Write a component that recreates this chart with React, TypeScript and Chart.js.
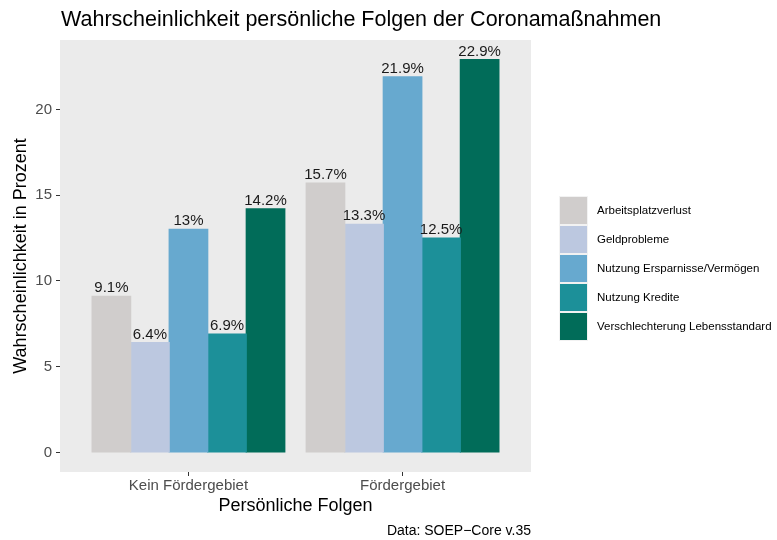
import React, { useEffect, useRef } from 'react';
import { Chart, registerables } from 'chart.js';

Chart.register(...registerables);

const FONT = '"Liberation Sans", Arial, Helvetica, sans-serif';

const titleText = 'Wahrscheinlichkeit persönliche Folgen der Coronamaßnahmen';
const captionText = 'Data: SOEP\u2212Core v.35';
const xTitle = 'Persönliche Folgen';
const yTitle = 'Wahrscheinlichkeit in Prozent';

const categories = ['Kein Fördergebiet', 'Fördergebiet'];
const seriesNames = [
  'Arbeitsplatzverlust',
  'Geldprobleme',
  'Nutzung Ersparnisse/Vermögen',
  'Nutzung Kredite',
  'Verschlechterung Lebensstandard',
];
const arbeitsplatzverlust = [9.1, 15.7];
const geldprobleme = [6.4, 13.3];
const ersparnisse = [13, 21.9];
const kredite = [6.9, 12.5];
const lebensstandard = [14.2, 22.9];
const seriesValues = [arbeitsplatzverlust, geldprobleme, ersparnisse, kredite, lebensstandard];
const seriesColors = ['#D0CDCC', '#BCC8E0', '#67A9CF', '#1C9099', '#016C59'];
const yTicks = [0, 5, 10, 15, 20];

const W = 777;
const H = 540;

export default function App() {
  const ref = useRef<HTMLCanvasElement | null>(null);

  useEffect(() => {
    const canvas = ref.current;
    if (!canvas) return;

    const bgPlugin = {
      id: 'panelBg',
      beforeDraw(chart: any) {
        const { ctx, chartArea } = chart;
        ctx.save();
        ctx.fillStyle = '#FFFFFF';
        ctx.fillRect(0, 0, chart.width, chart.height);
        ctx.fillStyle = '#EBEBEB';
        ctx.fillRect(chartArea.left, chartArea.top, chartArea.right - chartArea.left, chartArea.bottom - chartArea.top);
        ctx.restore();
      },
    };

    const labelPlugin = {
      id: 'barLabels',
      afterDatasetsDraw(chart: any) {
        const { ctx } = chart;
        ctx.save();
        ctx.font = `15px ${FONT}`;
        ctx.fillStyle = '#1A1A1A';
        ctx.textAlign = 'center';
        ctx.textBaseline = 'alphabetic';
        chart.data.datasets.forEach((ds: any, i: number) => {
          const meta = chart.getDatasetMeta(i);
          meta.data.forEach((el: any, j: number) => {
            const v = ds.data[j].y;
            ctx.fillText(`${v}%`, el.x, el.y - 4);
          });
        });
        ctx.restore();
      },
    };

    const decorPlugin = {
      id: 'decor',
      afterDraw(chart: any) {
        const { ctx, chartArea } = chart;
        ctx.save();
        // title
        ctx.fillStyle = '#000000';
        ctx.font = `21.5px ${FONT}`;
        ctx.textAlign = 'left';
        ctx.textBaseline = 'alphabetic';
        ctx.fillText(titleText, chartArea.left + 1, 26);
        // caption
        ctx.font = `14px ${FONT}`;
        ctx.textAlign = 'right';
        ctx.fillText(captionText, chartArea.right, 535);
        // legend
        const keyX = 560;
        const keyY = 197;
        const pitch = 29;
        const size = 27;
        ctx.font = `11.5px ${FONT}`;
        ctx.textAlign = 'left';
        ctx.textBaseline = 'middle';
        chart.data.datasets.forEach((ds: any, i: number) => {
          const y = keyY + i * pitch;
          ctx.fillStyle = '#F2F2F2';
          ctx.fillRect(keyX - 1, y - 1, size + 2, size + 2);
          ctx.fillStyle = ds.backgroundColor;
          ctx.fillRect(keyX, y, size, size);
          ctx.fillStyle = '#000000';
          ctx.fillText(ds.label, keyX + 37, y + size / 2 + 0.5);
        });
        ctx.restore();
      },
    };

    const chart = new Chart(canvas, {
      type: 'bar',
      data: {
        datasets: seriesValues.map((vals, i) => ({
          label: seriesNames[i],
          data: vals.map((v, j) => ({ x: j + 1, y: v })),
          backgroundColor: seriesColors[i],
          borderWidth: 0,
          inflateAmount: 0.6,
          categoryPercentage: 0.9,
          barPercentage: 1,
        })),
      },
      options: {
        animation: false,
        responsive: false,
        maintainAspectRatio: false,
        devicePixelRatio: 1,
        layout: { padding: { left: 0, top: 40, right: W - 531, bottom: 0 } },
        plugins: {
          legend: { display: false },
          title: { display: false },
          tooltip: { enabled: false },
        },
        scales: {
          x: {
            type: 'linear',
            min: 0.4,
            max: 2.6,
            offset: false,
            border: { display: false },
            grid: {
              display: true,
              drawOnChartArea: false,
              drawTicks: true,
              tickLength: 4,
              tickColor: '#333333',
              tickWidth: 1,
              offset: false,
            },
            ticks: {
              autoSkip: false,
              maxRotation: 0,
              padding: 1,
              color: '#4D4D4D',
              font: { family: FONT, size: 15 },
              callback: (v: any) => {
                const idx = Math.round(Number(v)) - 1;
                return categories[idx] ?? '';
              },
            },
            afterBuildTicks: (s: any) => {
              s.ticks = categories.map((_, i) => ({ value: i + 1 }));
            },
            afterFit: (s: any) => {
              s.height = H - 472;
            },
            title: {
              display: true,
              text: xTitle,
              color: '#000000',
              font: { family: FONT, size: 18 },
              padding: { top: 0, bottom: 23 },
            },
          },
          y: {
            type: 'linear',
            min: -1.145,
            max: 24.045,
            border: { display: false },
            grid: {
              display: true,
              drawOnChartArea: false,
              drawTicks: true,
              tickLength: 4,
              tickColor: '#333333',
              tickWidth: 1,
            },
            ticks: {
              padding: 4,
              color: '#4D4D4D',
              font: { family: FONT, size: 15 },
              callback: (v: any) => String(v),
            },
            afterBuildTicks: (s: any) => {
              s.ticks = yTicks.map((v) => ({ value: v }));
            },
            afterFit: (s: any) => {
              s.width = 60;
            },
            title: {
              display: true,
              text: yTitle,
              color: '#000000',
              font: { family: FONT, size: 18 },
              padding: { top: 10, bottom: 0 },
            },
          },
        },
      } as any,
      plugins: [bgPlugin, labelPlugin, decorPlugin],
    });

    return () => chart.destroy();
  }, []);

  return (
    <div style={{ position: 'absolute', left: 0, top: 0, width: W, height: H, background: '#fff' }}>
      <canvas ref={ref} width={W} height={H} style={{ display: 'block', width: W, height: H }} />
    </div>
  );
}
